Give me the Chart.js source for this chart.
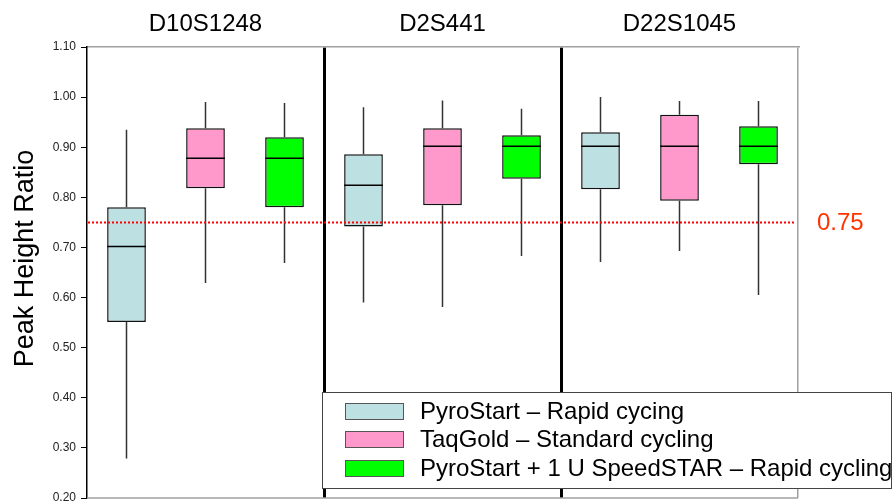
<!DOCTYPE html>
<html>
<head>
<meta charset="UTF-8">
<title>Peak Height Ratio</title>
<style>
body {
	margin: 0;
	background: #fff;
}
.chart-container {
	position: relative;
	width: 895px;
	height: 501px;
}
#legend {
	position: absolute;
	left: 322px;
	top: 392px;
	width: 568px;
	height: 95px;
	border: 1px solid #444;
	background: #fff;
	font-family: "Liberation Sans", Arial, sans-serif;
	font-size: 24px;
	color: #000;
}
#legend .row {
	position: absolute;
	left: 0;
	height: 28px;
	line-height: 28px;
	white-space: nowrap;
}
#legend .swatch {
	position: absolute;
	left: 22px;
	top: 6px;
	width: 57px;
	height: 15px;
	border: 1px solid #555;
}
#legend .row span {
	position: absolute;
	left: 97px;
	top: 0;
}
</style>
<script src="https://cdn.jsdelivr.net/npm/chart.js"></script>
</head>
<body>
	<div class="chart-container">
		<canvas id="box-chart"></canvas>
		<div id="legend"></div>
	</div>

	<script>
		const groups = [ 'D10S1248', 'D2S441', 'D22S1045' ];
		const seriesNames = [ 'PyroStart – Rapid cycing', 'TaqGold – Standard cycling',
				'PyroStart + 1 U SpeedSTAR – Rapid cycling' ];
		const seriesColors = [ '#bde0e3', '#ff99cc', '#00ff00' ];

		// whisker low, quartile 1, median, quartile 3, whisker high (one value per locus)
		const pyroLow = [ 0.279, 0.590, 0.671 ];
		const pyroQ1 = [ 0.551, 0.742, 0.816 ];
		const pyroMed = [ 0.702, 0.824, 0.902 ];
		const pyroQ3 = [ 0.780, 0.886, 0.930 ];
		const pyroHigh = [ 0.935, 0.980, 1.000 ];

		const taqLow = [ 0.629, 0.581, 0.693 ];
		const taqQ1 = [ 0.818, 0.784, 0.793 ];
		const taqMed = [ 0.878, 0.902, 0.902 ];
		const taqQ3 = [ 0.938, 0.938, 0.965 ];
		const taqHigh = [ 0.990, 0.993, 0.992 ];

		const speedLow = [ 0.669, 0.683, 0.605 ];
		const speedQ1 = [ 0.780, 0.837, 0.866 ];
		const speedMed = [ 0.878, 0.902, 0.902 ];
		const speedQ3 = [ 0.920, 0.924, 0.942 ];
		const speedHigh = [ 0.988, 0.977, 0.992 ];

		const threshold = 0.75;
		const yMin = 0.2;
		const yMax = 1.1;
		const yStep = 0.1;
		const yTitle = 'Peak Height Ratio';

		function makeBox(i, low, q1, med, q3, high) {
			return {
				label : seriesNames[i],
				data : q1.map((v, k) => [ v, q3[k] ]),
				low : low,
				med : med,
				high : high,
				backgroundColor : seriesColors[i],
				borderColor : '#111',
				borderWidth : 1.5,
				borderSkipped : false,
				barPercentage : 0.49,
				categoryPercentage : 1.0
			};
		}

		// whiskers, medians, the 0.75 line and the axis title
		const boxExtras = {
			id : 'boxExtras',
			beforeDatasetsDraw(chart) {
				const ctx = chart.ctx, a = chart.chartArea;
				ctx.save();
				ctx.strokeStyle = '#a0a0a0';
				ctx.lineWidth = 1.5;
				ctx.beginPath();
				ctx.moveTo(a.left, a.bottom);
				ctx.lineTo(a.right, a.bottom);
				ctx.stroke();
				ctx.restore();
			},
			afterDatasetsDraw(chart) {
				const ctx = chart.ctx, a = chart.chartArea, y = chart.scales.y;
				ctx.save();
				chart.data.datasets.forEach((ds, d) => {
					chart.getDatasetMeta(d).data.forEach((bar, i) => {
						const half = bar.width / 2;
						ctx.strokeStyle = '#333';
						ctx.lineWidth = 1.5;
						ctx.beginPath();
						ctx.moveTo(bar.x, y.getPixelForValue(ds.data[i][1]));
						ctx.lineTo(bar.x, y.getPixelForValue(ds.high[i]));
						ctx.moveTo(bar.x, y.getPixelForValue(ds.data[i][0]));
						ctx.lineTo(bar.x, y.getPixelForValue(ds.low[i]));
						ctx.stroke();
						const ym = y.getPixelForValue(ds.med[i]);
						ctx.strokeStyle = '#000';
						ctx.beginPath();
						ctx.moveTo(bar.x - half, ym);
						ctx.lineTo(bar.x + half, ym);
						ctx.stroke();
					});
				});

				const yt = y.getPixelForValue(threshold);
				ctx.strokeStyle = '#ff0000';
				ctx.lineWidth = 2;
				ctx.setLineDash([ 2, 2 ]);
				ctx.beginPath();
				ctx.moveTo(a.left + 1, yt);
				ctx.lineTo(a.right - 2, yt);
				ctx.stroke();
				ctx.setLineDash([]);

				ctx.fillStyle = '#ff3300';
				ctx.font = '24px "Liberation Sans", Arial, sans-serif';
				ctx.textAlign = 'left';
				ctx.textBaseline = 'middle';
				ctx.fillText(threshold.toFixed(2), a.right + 19, yt + 1);

				ctx.fillStyle = '#000';
				ctx.font = '27px "Liberation Sans", Arial, sans-serif';
				ctx.textAlign = 'center';
				ctx.translate(26, (a.top + a.bottom) / 2 - 14);
				ctx.rotate(-Math.PI / 2);
				ctx.fillText(yTitle, 0, 0);
				ctx.restore();
			}
		};

		Chart.defaults.font.family = '"Liberation Sans", Arial, sans-serif';

		const config = {
			type : 'bar',
			data : {
				labels : groups,
				datasets : [
						makeBox(0, pyroLow, pyroQ1, pyroMed, pyroQ3, pyroHigh),
						makeBox(1, taqLow, taqQ1, taqMed, taqQ3, taqHigh),
						makeBox(2, speedLow, speedQ1, speedMed, speedQ3, speedHigh) ]
			},
			options : {
				responsive : true,
				maintainAspectRatio : false,
				animation : false,
				layout : {
					padding : { left : 0, right : 97, top : 0, bottom : 3 }
				},
				plugins : {
					legend : { display : false },
					tooltip : { enabled : false }
				},
				scales : {
					x : {
						position : 'top',
						afterFit : s => { s.height = 47; s.paddingLeft = 0; s.paddingRight = 0; },
						ticks : {
							color : '#000',
							padding : 8,
							font : { size : 24 }
						},
						grid : {
							offset : true,
							drawTicks : false,
							color : c => c.index === 0 ? 'rgba(0,0,0,0)'
									: (c.index === undefined ? '#a0a0a0' : '#000'),
							lineWidth : c => c.index === undefined ? 1.5 : 3
						},
						border : { display : true, color : '#a0a0a0', width : 1.5 }
					},
					y : {
						min : yMin,
						max : yMax,
						afterFit : s => { s.width = 87; s.paddingTop = 0; s.paddingBottom = 0; },
						ticks : {
							stepSize : yStep,
							color : '#222',
							padding : 5,
							font : { size : 12 },
							callback : v => v.toFixed(2)
						},
						grid : {
							drawOnChartArea : false,
							drawTicks : true,
							tickLength : 6,
							color : '#000'
						},
						border : { display : true, color : '#000', width : 1.5 }
					}
				}
			},
			plugins : [ boxExtras ]
		};
		new Chart(document.querySelector('#box-chart'), config);

		const legendEl = document.querySelector('#legend');
		seriesNames.forEach((name, i) => {
			const row = document.createElement('div');
			row.className = 'row';
			row.style.top = (4 + i * 28.3) + 'px';
			row.innerHTML = '<div class="swatch" style="background:' + seriesColors[i]
					+ '"></div><span>' + name + '</span>';
			legendEl.appendChild(row);
		});
	</script>
</body>
</html>
